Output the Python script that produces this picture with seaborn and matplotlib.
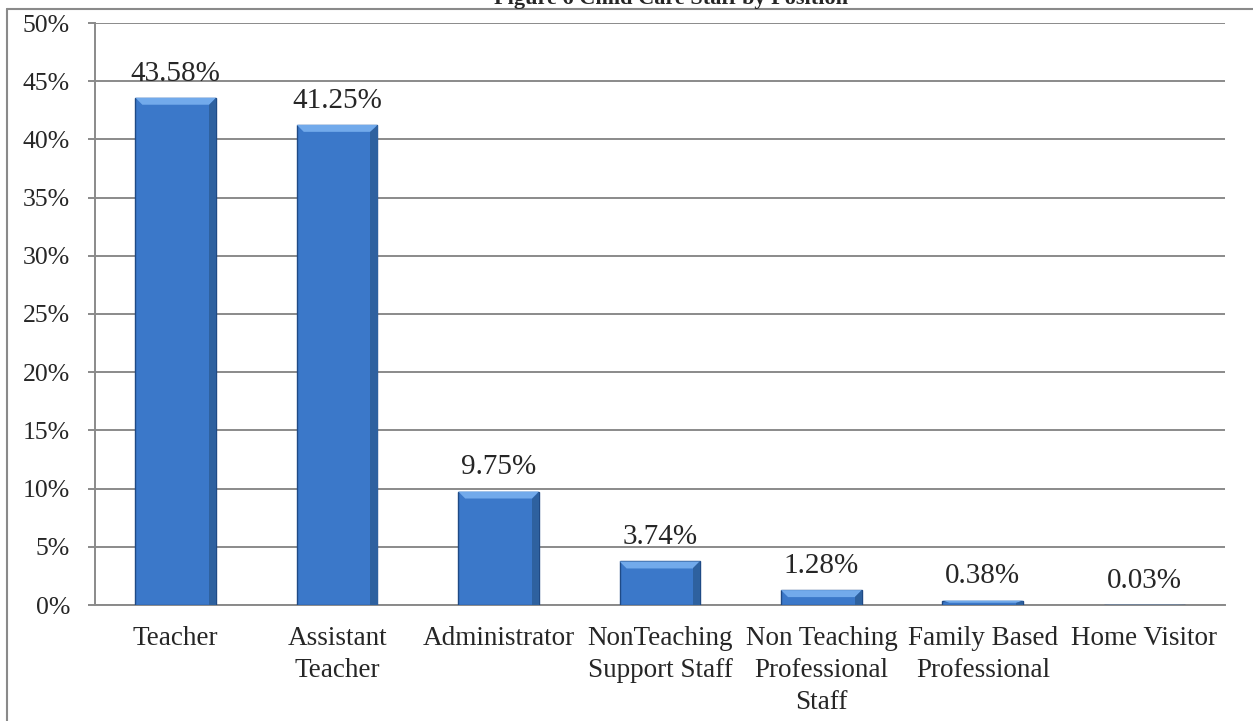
import pandas as pd
import matplotlib.pyplot as plt
import seaborn as sns
from matplotlib.lines import Line2D
from matplotlib.patches import Polygon
from matplotlib.ticker import FixedLocator, PercentFormatter

# Child care staff by position (share of staff, %)
posiciones = ['Teacher', 'Assistant\nTeacher', 'Administrator', 'NonTeaching\nSupport Staff',
              'Non Teaching\nProfessional\nStaff', 'Family Based\nProfessional', 'Home Visitor']
porcentaje = [43.58, 41.25, 9.75, 3.74, 1.28, 0.38, 0.03]
etiquetas = ['43.58%', '41.25%', '9.75%', '3.74%', '1.28%', '0.38%', '0.03%']
marcas_y = [0, 5, 10, 15, 20, 25, 30, 35, 40, 45, 50]

df = pd.DataFrame({'posicion': posiciones, 'porcentaje': porcentaje})

sns.set_style('white')
plt.rcParams['font.family'] = ['Liberation Serif', 'DejaVu Serif']

gris = '#8a8a8a'
fig = plt.figure(figsize=(12.53, 7.21), dpi=100)
ax = fig.add_axes([95 / 1253, 1 - 605 / 721, 1130 / 1253, 582 / 721])

sns.barplot(data=df, x='posicion', y='porcentaje', color='#3b78c9', width=0.5,
            saturation=1, edgecolor='#1f4a85', linewidth=1.0, ax=ax, zorder=3)

# bisel claro arriba y sombra a la derecha (estilo Excel)
bx = 7 / 161.4
by = 7 * 50 / 582
for p in list(ax.patches):
    x0, w, h = p.get_x(), p.get_width(), p.get_height()
    if h <= 0:
        continue
    b = min(by, h / 2)
    ax.add_patch(Polygon([(x0, h), (x0 + w, h), (x0 + w - bx, h - b), (x0 + bx, h - b)],
                         closed=True, facecolor='#72aaeb', edgecolor='none', zorder=4))
    ax.add_patch(Polygon([(x0 + w, h), (x0 + w, 0), (x0 + w - bx, 0), (x0 + w - bx, h - b)],
                         closed=True, facecolor='#2e619f', edgecolor='none', zorder=4))

for i, (v, t) in enumerate(zip(porcentaje, etiquetas)):
    ax.annotate(t, (i, v), xytext=(0, 8), textcoords='offset points',
                ha='center', va='bottom', fontsize=21)

ax.set_xlim(-0.5, len(posiciones) - 0.5)
ax.set_ylim(0, 50)
ax.set_yticks(marcas_y)
ax.yaxis.set_major_formatter(PercentFormatter(decimals=0))
ax.grid(axis='y', color=gris, linewidth=1.4, zorder=0)
ax.set_axisbelow(True)

ax.xaxis.set_minor_locator(FixedLocator([i - 0.5 for i in range(len(posiciones) + 1)]))
ax.tick_params(axis='x', which='major', length=0, pad=15, labelsize=19.5)
ax.tick_params(axis='x', which='minor', length=6, width=1.4, color=gris, direction='out')
ax.tick_params(axis='y', length=5, width=1.4, color=gris, pad=13, labelsize=18.5, left=True)
for lbl in ax.get_xticklabels():
    lbl.set_linespacing(1.36)
ax.set_xlabel('')
ax.set_ylabel('')

for lado in ['top', 'right']:
    ax.spines[lado].set_visible(False)
for lado in ['left', 'bottom']:
    ax.spines[lado].set_color(gris)
    ax.spines[lado].set_linewidth(1.4)

# marco del documento
fig.add_artist(Line2D([7 / 1253, 1], [1 - 8.5 / 721, 1 - 8.5 / 721], color=gris, linewidth=1.5))
fig.add_artist(Line2D([7 / 1253, 7 / 1253], [0, 1 - 8.5 / 721], color=gris, linewidth=1.5))

fig.text(671 / 1253, 1 - 4 / 721, 'Figure 6 Child Care Staff by Position', ha='center',
         va='baseline', fontsize=16, fontweight='bold')

fig.savefig('out.png', dpi=100)
